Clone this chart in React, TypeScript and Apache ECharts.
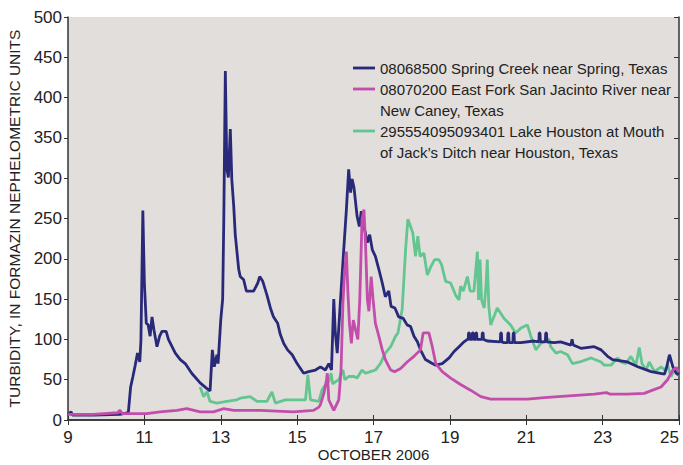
import React, { useEffect, useRef } from "react";
import * as echarts from "echarts";

const xTicks = [9, 11, 13, 15, 17, 19, 21, 23, 25];
const yMax = 500;
const xTitle = "OCTOBER 2006";

const seriesNames = [
  "08068500 Spring Creek near Spring, Texas",
  "08070200 East Fork San Jacinto River near\nNew Caney, Texas",
  "295554095093401 Lake Houston at Mouth\nof Jack\u2019s Ditch near Houston, Texas",
];

const springCreek: number[][] = [
  [9.0, 7], [9.08, 10], [9.12, 6], [9.66, 6], [10.36, 7], [10.58, 9], [10.64, 41], [10.7, 54], [10.76, 68],
  [10.82, 83], [10.88, 72], [10.91, 99], [10.96, 260], [11.0, 170], [11.05, 120], [11.1, 118], [11.15, 104],
  [11.2, 128], [11.25, 112], [11.33, 91], [11.4, 104], [11.46, 110], [11.57, 110], [11.63, 100], [11.81, 83],
  [11.94, 75], [12.07, 70], [12.24, 58], [12.46, 46], [12.64, 39], [12.72, 36], [12.78, 87], [12.83, 66],
  [12.9, 81], [12.93, 70], [13.0, 124], [13.05, 150], [13.08, 250], [13.12, 433], [13.16, 311], [13.2, 301],
  [13.25, 361], [13.29, 298], [13.34, 265], [13.38, 230], [13.47, 187], [13.51, 178], [13.6, 174], [13.67, 160],
  [13.86, 160], [13.97, 170], [14.02, 178], [14.1, 172], [14.21, 155], [14.3, 139], [14.38, 128], [14.49, 120],
  [14.56, 106], [14.65, 95], [14.75, 87], [14.87, 81], [15.0, 70], [15.17, 58], [15.3, 60], [15.48, 62],
  [15.61, 66], [15.74, 62], [15.83, 70], [15.9, 62], [15.96, 150], [16.0, 108], [16.05, 83], [16.12, 137],
  [16.18, 182], [16.22, 211], [16.29, 261], [16.35, 311], [16.4, 282], [16.44, 299], [16.49, 288], [16.57, 253],
  [16.63, 240], [16.68, 259], [16.75, 240], [16.84, 220], [16.9, 230], [16.97, 211], [17.05, 203], [17.14, 187],
  [17.23, 170], [17.31, 153], [17.4, 160], [17.46, 141], [17.56, 139], [17.66, 128], [17.78, 126], [17.88, 118],
  [17.97, 116], [18.06, 104], [18.15, 97], [18.23, 87], [18.36, 75], [18.54, 70], [18.63, 68], [18.8, 70],
  [18.98, 77], [19.11, 85], [19.24, 91], [19.37, 97], [19.46, 100],
  [19.48, 100], [19.49, 108], [19.51, 108], [19.52, 100], [19.58, 100], [19.59, 108], [19.61, 108], [19.62, 100],
  [19.67, 100], [19.68, 108], [19.7, 108], [19.71, 100], [19.84, 100], [19.85, 108], [19.87, 108], [19.88, 100],
  [19.98, 98], [20.32, 97], [20.33, 108], [20.35, 108], [20.36, 97], [20.42, 96], [20.51, 96], [20.52, 108],
  [20.54, 108], [20.55, 96], [20.65, 96], [20.66, 108], [20.68, 108], [20.69, 96], [20.86, 96], [21.2, 98],
  [21.33, 97], [21.34, 108], [21.36, 108], [21.37, 97], [21.5, 97], [21.51, 108], [21.53, 108], [21.54, 97],
  [21.73, 96], [21.9, 97], [22.17, 93], [22.2, 100], [22.23, 93], [22.43, 89], [22.78, 91], [22.96, 87],
  [23.13, 79], [23.26, 75], [23.65, 72], [23.92, 66], [24.27, 60], [24.62, 57], [24.68, 66], [24.75, 81],
  [24.84, 66], [24.93, 58], [25.0, 56],
];

const eastFork: number[][] = [
  [9.0, 7], [9.66, 7], [10.3, 9], [10.36, 12], [10.42, 8], [11.06, 8], [11.41, 10], [11.85, 12], [12.11, 14],
  [12.46, 10], [12.81, 10], [13.07, 14], [13.34, 12], [14.04, 12], [14.9, 10], [15.43, 12], [15.57, 16],
  [15.61, 19], [15.7, 33], [15.77, 50], [15.79, 58], [15.83, 25], [15.96, 12], [16.09, 25], [16.15, 62],
  [16.2, 145], [16.24, 182], [16.29, 209], [16.33, 158], [16.37, 120], [16.42, 95], [16.47, 124], [16.55, 108],
  [16.59, 100], [16.64, 149], [16.7, 249], [16.75, 261], [16.79, 220], [16.84, 149], [16.88, 135], [16.94, 178],
  [16.99, 149], [17.05, 120], [17.14, 104], [17.23, 87], [17.31, 75], [17.45, 62], [17.55, 60], [17.71, 64],
  [17.88, 72], [18.06, 79], [18.23, 87], [18.3, 108], [18.45, 108], [18.54, 91], [18.63, 70], [18.8, 60],
  [19.02, 52], [19.28, 44], [19.54, 37], [19.81, 29], [20.07, 26], [20.51, 26], [21.03, 26], [21.56, 28],
  [22.12, 30], [22.78, 32], [23.1, 34], [23.2, 32], [23.65, 32], [24.09, 33], [24.31, 37], [24.53, 41],
  [24.7, 50], [24.84, 62], [24.93, 65], [25.0, 60],
];

const lakeHouston: number[][] = [
  [12.46, 41], [12.55, 29], [12.64, 35], [12.72, 23], [12.9, 21], [13.16, 23], [13.42, 25], [13.51, 27],
  [13.77, 29], [13.95, 23], [14.21, 23], [14.34, 35], [14.43, 21], [14.69, 25], [15.09, 25], [15.22, 25],
  [15.28, 56], [15.35, 25], [15.57, 23], [15.65, 37], [15.7, 41], [15.83, 48], [15.89, 58], [15.93, 45],
  [16.09, 50], [16.2, 62], [16.25, 50], [16.35, 54], [16.49, 54], [16.57, 52], [16.7, 62], [16.79, 58],
  [16.92, 60], [17.05, 62], [17.18, 70], [17.31, 83], [17.45, 91], [17.58, 104], [17.64, 108], [17.75, 137],
  [17.8, 178], [17.84, 211], [17.9, 249], [17.97, 240], [18.03, 232], [18.1, 203], [18.16, 228], [18.22, 203],
  [18.32, 207], [18.41, 180], [18.5, 190], [18.6, 199], [18.71, 199], [18.78, 193], [18.89, 172], [19.02, 170],
  [19.15, 155], [19.24, 149], [19.28, 166], [19.35, 160], [19.46, 178], [19.53, 160], [19.63, 160], [19.72, 209],
  [19.75, 149], [19.79, 199], [19.83, 149], [19.9, 139], [19.95, 170], [19.98, 199], [20.02, 141], [20.07, 118],
  [20.24, 139], [20.42, 126], [20.59, 118], [20.72, 108], [20.86, 114], [21.03, 118], [21.12, 104], [21.25, 87],
  [21.38, 95], [21.51, 99], [21.6, 100], [21.64, 91], [21.78, 83], [21.9, 85], [22.08, 81], [22.21, 70],
  [22.4, 72], [22.7, 77], [22.96, 72], [23.04, 68], [23.22, 68], [23.39, 77], [23.48, 72], [23.61, 70],
  [23.74, 79], [23.87, 68], [23.96, 90], [24.03, 70], [24.14, 62], [24.22, 72], [24.36, 60], [24.53, 66],
  [24.62, 62], [24.7, 68], [24.79, 54], [24.88, 62], [24.97, 56], [25.0, 55],
];

const colors = ["#29297a", "#c24dab", "#63c690"];
const FONT = "'Liberation Sans', Arial, sans-serif";

export default function App() {
  const ref = useRef<HTMLDivElement>(null);
  useEffect(() => {
    if (!ref.current) return;
    const chart = echarts.init(ref.current, null, { renderer: "svg" });
    const axisLine = { show: true, lineStyle: { color: "#333", width: 1.5 } };
    const legendTop = 68;
    const lineGap = 21;
    const legendGraphic: any[] = [];
    const lineRows = [0, 1, 3];
    lineRows.forEach((r, i) => {
      legendGraphic.push({
        type: "line",
        shape: { x1: 353, y1: legendTop + r * lineGap, x2: 375, y2: legendTop + r * lineGap },
        style: { stroke: colors[i], lineWidth: 2.8 },
      });
      legendGraphic.push({
        type: "text",
        x: 380,
        y: legendTop + r * lineGap - lineGap / 2,
        style: {
          text: seriesNames[i],
          fill: "#222",
          font: `15px ${FONT}`,
          lineHeight: lineGap,
          verticalAlign: "top",
        },
      });
    });
    legendGraphic.push({
      type: "text",
      x: 373.5,
      y: 454,
      style: {
        text: xTitle,
        fill: "#222",
        font: `15px ${FONT}`,
        align: "center",
        verticalAlign: "middle",
      },
    });
    chart.setOption({
      animation: false,
      backgroundColor: "#ffffff",
      grid: {
        left: 68,
        right: 4,
        top: 17,
        bottom: 45,
        show: true,
        containLabel: false,
        outerBoundsMode: "none",
        backgroundColor: "#e2dedc",
        borderWidth: 0,
      },
      xAxis: [
        {
          type: "value",
          min: xTicks[0],
          max: xTicks[xTicks.length - 1],
          interval: 2,
          position: "bottom",
          axisLine,
          axisTick: { show: true, inside: true, length: 5, lineStyle: { color: "#333" } },
          axisLabel: {
            show: true,
            margin: 9,
            color: "#222",
            fontSize: 17,
            fontFamily: FONT,
            alignMaxLabel: "right",
          },
          splitLine: { show: false },
        },
        {
          type: "value",
          min: xTicks[0],
          max: xTicks[xTicks.length - 1],
          interval: 2,
          position: "top",
          axisLine,
          axisTick: { show: true, inside: true, length: 5, lineStyle: { color: "#333" } },
          axisLabel: { show: false },
          splitLine: { show: false },
        },
      ],
      yAxis: [
        {
          type: "value",
          min: 0,
          max: yMax,
          interval: 50,
          position: "left",
          axisLine,
          axisTick: { show: true, inside: false, length: 4, lineStyle: { color: "#333" } },
          axisLabel: { show: true, margin: 6, color: "#222", fontSize: 17, fontFamily: FONT },
          splitLine: { show: false },
          name: "TURBIDITY, IN FORMAZIN NEPHELOMETRIC UNITS",
          nameLocation: "middle",
          nameGap: 35,
          nameTextStyle: { color: "#222", fontSize: 15.5, fontFamily: FONT },
        },
        {
          type: "value",
          min: 0,
          max: yMax,
          interval: 50,
          position: "right",
          axisLine,
          axisTick: { show: true, inside: true, length: 5, lineStyle: { color: "#333" } },
          axisLabel: { show: false },
          splitLine: { show: false },
        },
      ],
      graphic: legendGraphic,
      series: [
        {
          name: seriesNames[2],
          type: "line",
          data: lakeHouston,
          showSymbol: false,
          lineStyle: { color: colors[2], width: 2.8 },
          itemStyle: { color: colors[2] },
          z: 2,
        },
        {
          name: seriesNames[0],
          type: "line",
          data: springCreek,
          showSymbol: false,
          lineStyle: { color: colors[0], width: 2.8 },
          itemStyle: { color: colors[0] },
          z: 3,
        },
        {
          name: seriesNames[1],
          type: "line",
          data: eastFork,
          showSymbol: false,
          lineStyle: { color: colors[1], width: 2.8 },
          itemStyle: { color: colors[1] },
          z: 4,
        },
      ],
    });
    return () => chart.dispose();
  }, []);
  return <div ref={ref} style={{ width: 683, height: 465, position: "absolute", left: 0, top: 0 }} />;
}
